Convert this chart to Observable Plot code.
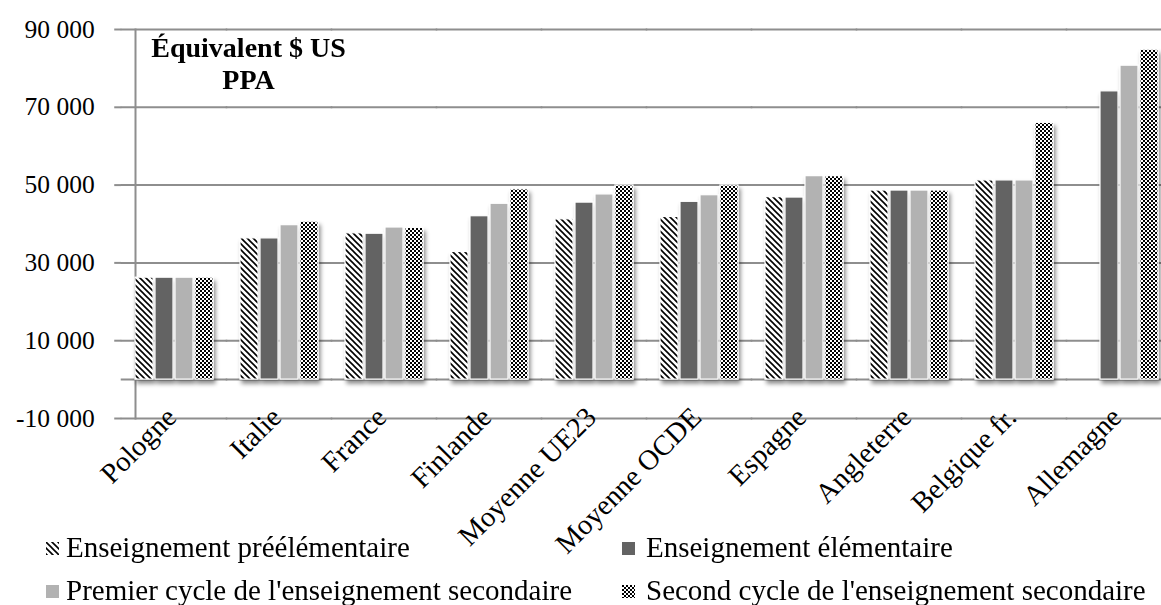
<!DOCTYPE html>
<html>
<head>
<meta charset="utf-8">
<script src="https://cdn.jsdelivr.net/npm/d3@7"></script>
<script src="https://cdn.jsdelivr.net/npm/@observablehq/plot@0.6"></script>
<style>
  html, body { margin: 0; padding: 0; background: white; overflow: hidden; }
  body { width: 1161px; height: 605px; position: relative; font-family: "Liberation Serif", serif; }
  #legend { position: absolute; left: 0; top: 0; width: 1161px; height: 605px; pointer-events: none; }
  .item { position: absolute; font-size: 29px; color: #000; white-space: nowrap; line-height: 1; }
  .sw { position: absolute; }
</style>
</head>
<body>
<div id="chart"></div>
<div id="legend"></div>
<script>
const categories = ["Pologne", "Italie", "France", "Finlande", "Moyenne UE23", "Moyenne OCDE", "Espagne", "Angleterre", "Belgique fr.", "Allemagne"];
const seriesNames = ["Enseignement préélémentaire", "Enseignement élémentaire", "Premier cycle de l'enseignement secondaire", "Second cycle de l'enseignement secondaire"];
const preelementaire = [26200, 36300, 37600, 32800, 41200, 41800, 46900, 48600, 51200, null];
const elementaire    = [26200, 36300, 37500, 42000, 45500, 45700, 46800, 48600, 51200, 74100];
const secondaire1    = [26200, 39700, 39100, 45200, 47600, 47400, 52300, 48600, 51200, 80700];
const secondaire2    = [26200, 40600, 39000, 48900, 49900, 49900, 52300, 48600, 66000, 84800];
const yTicks = [-10000, 10000, 30000, 50000, 70000, 90000];
const titleText = "Équivalent $ US\nPPA";

const seriesValues = [preelementaire, elementaire, secondaire1, secondaire2];
const fills = ["url(#hatch)", "#636363", "#b2b2b2", "url(#check)"];
const data = [];
categories.forEach((c, i) => {
  seriesNames.forEach((s, j) => {
    const v = seriesValues[j][i];
    if (v != null) data.push({country: c, series: s, value: v});
  });
});
const fmt = d => String(d).replace(/\B(?=(\d{3})+(?!\d))/g, " ");
const gridColor = "#8e8e8e";

const W = 1180, ML = 117, MR = 4, PI = 0.26, PO = 0.13;
const step = (W - ML - MR) / (categories.length - PI + 2 * PO);
const outer = PO * step; // gap between frame edge and first facet

const chart = Plot.plot({
  width: W,
  height: 530,
  marginLeft: ML,
  marginRight: MR,
  marginTop: 29,
  marginBottom: 112,
  style: {fontFamily: "Liberation Serif, serif", fontSize: "25px", background: "white", overflow: "visible", maxWidth: "none", color: "#000"},
  fx: {domain: categories, paddingInner: PI, paddingOuter: PO, label: null},
  x: {domain: seriesNames, paddingInner: 0.1, paddingOuter: 0, axis: null},
  y: {domain: [-10000, 90000], axis: null},
  color: {domain: seriesNames, range: fills},
  marks: [
    Plot.ruleY(yTicks, {stroke: gridColor, strokeWidth: 2, insetLeft: -outer - 0.5, insetRight: -outer - 0.5}),
    Plot.ruleY([0], {stroke: gridColor, strokeWidth: 2, insetLeft: -outer - 0.5, insetRight: -outer - 0.5}),
    Plot.axisY({ticks: yTicks, tickSize: 7, tickPadding: 20, tickFormat: fmt, stroke: gridColor, strokeWidth: 2, fontSize: 25.5, label: null, dx: -outer}),
    Plot.frame({facet: "super", anchor: "left", stroke: gridColor, strokeWidth: 2}),
    Plot.barY(data, {fx: "country", x: "series", y: "value", fill: "series", stroke: "white", strokeWidth: 1.2}),
    Plot.axisFx({anchor: "bottom", tickRotate: -45, tickSize: 0, tickPadding: 4, fontSize: 28.5, label: null, dy: -10, dx: -3}),
    Plot.text([titleText], {facet: "super", frameAnchor: "top-left", text: d => d, dx: 113, dy: 5, textAnchor: "middle", lineAnchor: "top", lineHeight: 1.14, fontWeight: "bold", fontSize: 28})
  ]
});
document.getElementById("chart").appendChild(chart);

const svg = d3.select(chart);
const defs = svg.insert("defs", ":first-child");
const hatch = defs.append("pattern").attr("id", "hatch").attr("patternUnits", "userSpaceOnUse").attr("width", 6).attr("height", 6);
hatch.append("rect").attr("width", 6).attr("height", 6).attr("fill", "white");
hatch.append("path").attr("d", "M0,0L6,6M-3,3L3,9M3,-3L9,3").attr("stroke", "black").attr("stroke-width", 1.6);
const check = defs.append("pattern").attr("id", "check").attr("patternUnits", "userSpaceOnUse").attr("width", 4).attr("height", 4);
check.append("rect").attr("width", 4).attr("height", 4).attr("fill", "white");
check.append("rect").attr("width", 2).attr("height", 2).attr("fill", "black");
check.append("rect").attr("x", 2).attr("y", 2).attr("width", 2).attr("height", 2).attr("fill", "black");
const filt = defs.append("filter").attr("id", "shadow").attr("x", "-20%").attr("y", "-20%").attr("width", "140%").attr("height", "140%");
filt.append("feDropShadow").attr("dx", 2).attr("dy", 4).attr("stdDeviation", 2.2).attr("flood-color", "#000").attr("flood-opacity", 0.45);
svg.selectAll('g[aria-label="bar"]').attr("filter", "url(#shadow)");

// legend
const legend = d3.select("#legend");
const pos = [
  {sx: 46, sy: 542, tx: 66, ty: 533},
  {sx: 622, sy: 542, tx: 646, ty: 533},
  {sx: 46, sy: 585, tx: 66, ty: 576},
  {sx: 622, sy: 585, tx: 646, ty: 576}
];
seriesNames.forEach((s, j) => {
  const p = pos[j];
  const sw = legend.append("svg").attr("class", "sw").attr("width", 13).attr("height", 13)
    .style("left", p.sx + "px").style("top", p.sy + "px");
  sw.append("rect").attr("width", 13).attr("height", 13).attr("fill", fills[j]);
  legend.append("div").attr("class", "item").style("left", p.tx + "px").style("top", p.ty + "px").text(s);
});
</script>
</body>
</html>
